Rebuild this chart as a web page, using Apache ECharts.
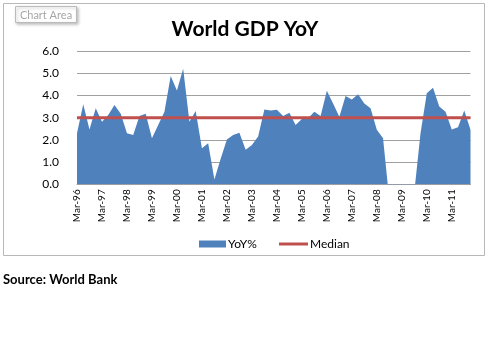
<!DOCTYPE html>
<html>
<head>
<meta charset="utf-8">
<script src="https://cdn.jsdelivr.net/npm/echarts@6/dist/echarts.min.js"></script>
<style>
html,body{margin:0;padding:0;background:#fff;}
#chart{width:490px;height:338px;}
</style>
</head>
<body>
<div id="chart"></div>
<script>
// Quarter labels
var quarterMonths = ['Mar', 'Jun', 'Sep', 'Dec'];
var yearLabels = ['96','97','98','99','00','01','02','03','04','05','06','07','08','09','10','11'];

// World GDP YoY % (quarterly, Mar-96 .. Dec-11); negatives fall below the axis minimum
var yoyValues = [
  2.30, 3.60, 2.47, 3.42, 2.82, 3.12, 3.57, 3.17,
  2.30, 2.22, 3.07, 3.17, 2.07, 2.67, 3.27, 4.87,
  4.22, 5.20, 2.82, 3.30, 1.62, 1.85, 0.22, 1.15,
  2.02, 2.22, 2.32, 1.55, 1.77, 2.15, 3.37, 3.32,
  3.35, 3.07, 3.22, 2.67, 2.94, 2.97, 3.27, 3.07,
  4.21, 3.64, 3.04, 3.97, 3.82, 4.05, 3.64, 3.42,
  2.46, 2.07, -0.70, -2.50, -3.50, -2.80, -0.35, 2.30,
  4.10, 4.35, 3.50, 3.27, 2.47, 2.57, 3.32, 2.45
];
var medianValue = 3.0;
var yTicks = [0, 1, 2, 3, 4, 5, 6];

var categories = [];
yearLabels.forEach(function (y) {
  quarterMonths.forEach(function (m) { categories.push(m + '-' + y); });
});
var medianData = categories.map(function () { return medianValue; });

var chart = echarts.init(document.getElementById('chart'), null, {renderer: 'canvas'});
var FONT = 'Lato, "Liberation Sans", sans-serif';

chart.setOption({
  animation: false,
  backgroundColor: '#ffffff',
  title: {
    text: 'World GDP YoY',
    left: 'center',
    top: 14,
    textStyle: {fontFamily: FONT, fontSize: 21, fontWeight: 'bold', color: '#000'}
  },
  graphic: [
    {type: 'rect', shape: {x: 3.5, y: 3.5, width: 481, height: 252}, style: {fill: 'none', stroke: '#b8b8b8', lineWidth: 1}, z: -1},
    {type: 'rect', shape: {x: 15.5, y: 6.5, width: 61, height: 16}, style: {fill: '#fff', stroke: '#bbbbbb', lineWidth: 1, shadowBlur: 3, shadowOffsetX: 1.5, shadowOffsetY: 1.5, shadowColor: 'rgba(0,0,0,0.25)'}, z: 10},
    {type: 'text', x: 46, y: 15, style: {text: 'Chart Area', fill: '#a6a6a6', font: '11px ' + FONT, align: 'center', verticalAlign: 'middle'}, z: 11},
    {type: 'text', x: 3, y: 280, style: {text: 'Source: World Bank', fill: '#000', font: 'bold 13px ' + FONT, align: 'left', verticalAlign: 'middle'}}
  ],
  grid: {left: 77, right: 19.5, top: 51, bottom: 153.7, containLabel: false},
  legend: [
    {
      data: [{name: 'YoY%', icon: 'rect'}],
      left: 194, top: 233,
      itemWidth: 27, itemHeight: 7, itemGap: 2,
      textStyle: {fontFamily: FONT, fontSize: 12, color: '#000', padding: [0, 0, 0, -3]}
    },
    {
      data: [{name: 'Median', icon: 'rect'}],
      left: 274, top: 233,
      itemWidth: 29, itemHeight: 3, itemGap: 2,
      textStyle: {fontFamily: FONT, fontSize: 12, color: '#000', padding: [0, 0, 0, -3]}
    }
  ],
  xAxis: {
    type: 'category',
    data: categories,
    boundaryGap: false,
    axisLine: {show: true, lineStyle: {color: '#a0a0a0', width: 1}},
    axisTick: {show: false},
    axisLabel: {interval: 3, rotate: 90, fontFamily: FONT, fontSize: 10, color: '#000', margin: 5},
    splitLine: {show: false}
  },
  yAxis: {
    type: 'value',
    min: yTicks[0], max: yTicks[yTicks.length - 1], interval: 1,
    axisLine: {show: false},
    axisTick: {show: false},
    axisLabel: {fontFamily: FONT, fontSize: 12, color: '#000', margin: 18, formatter: function (v) { return v.toFixed(1); }},
    splitLine: {show: true, lineStyle: {color: '#a0a0a0', width: 1}}
  },
  series: [
    {
      name: 'YoY%',
      type: 'line',
      data: yoyValues,
      showSymbol: false,
      clip: true,
      lineStyle: {width: 0, color: '#4F81BD'},
      itemStyle: {color: '#4F81BD'},
      areaStyle: {color: '#4F81BD', opacity: 1},
      z: 2
    },
    {
      name: 'Median',
      type: 'line',
      data: medianData,
      showSymbol: false,
      lineStyle: {width: 3, color: '#C0504D'},
      itemStyle: {color: '#C0504D'},
      z: 3
    }
  ]
});
</script>
</body>
</html>
